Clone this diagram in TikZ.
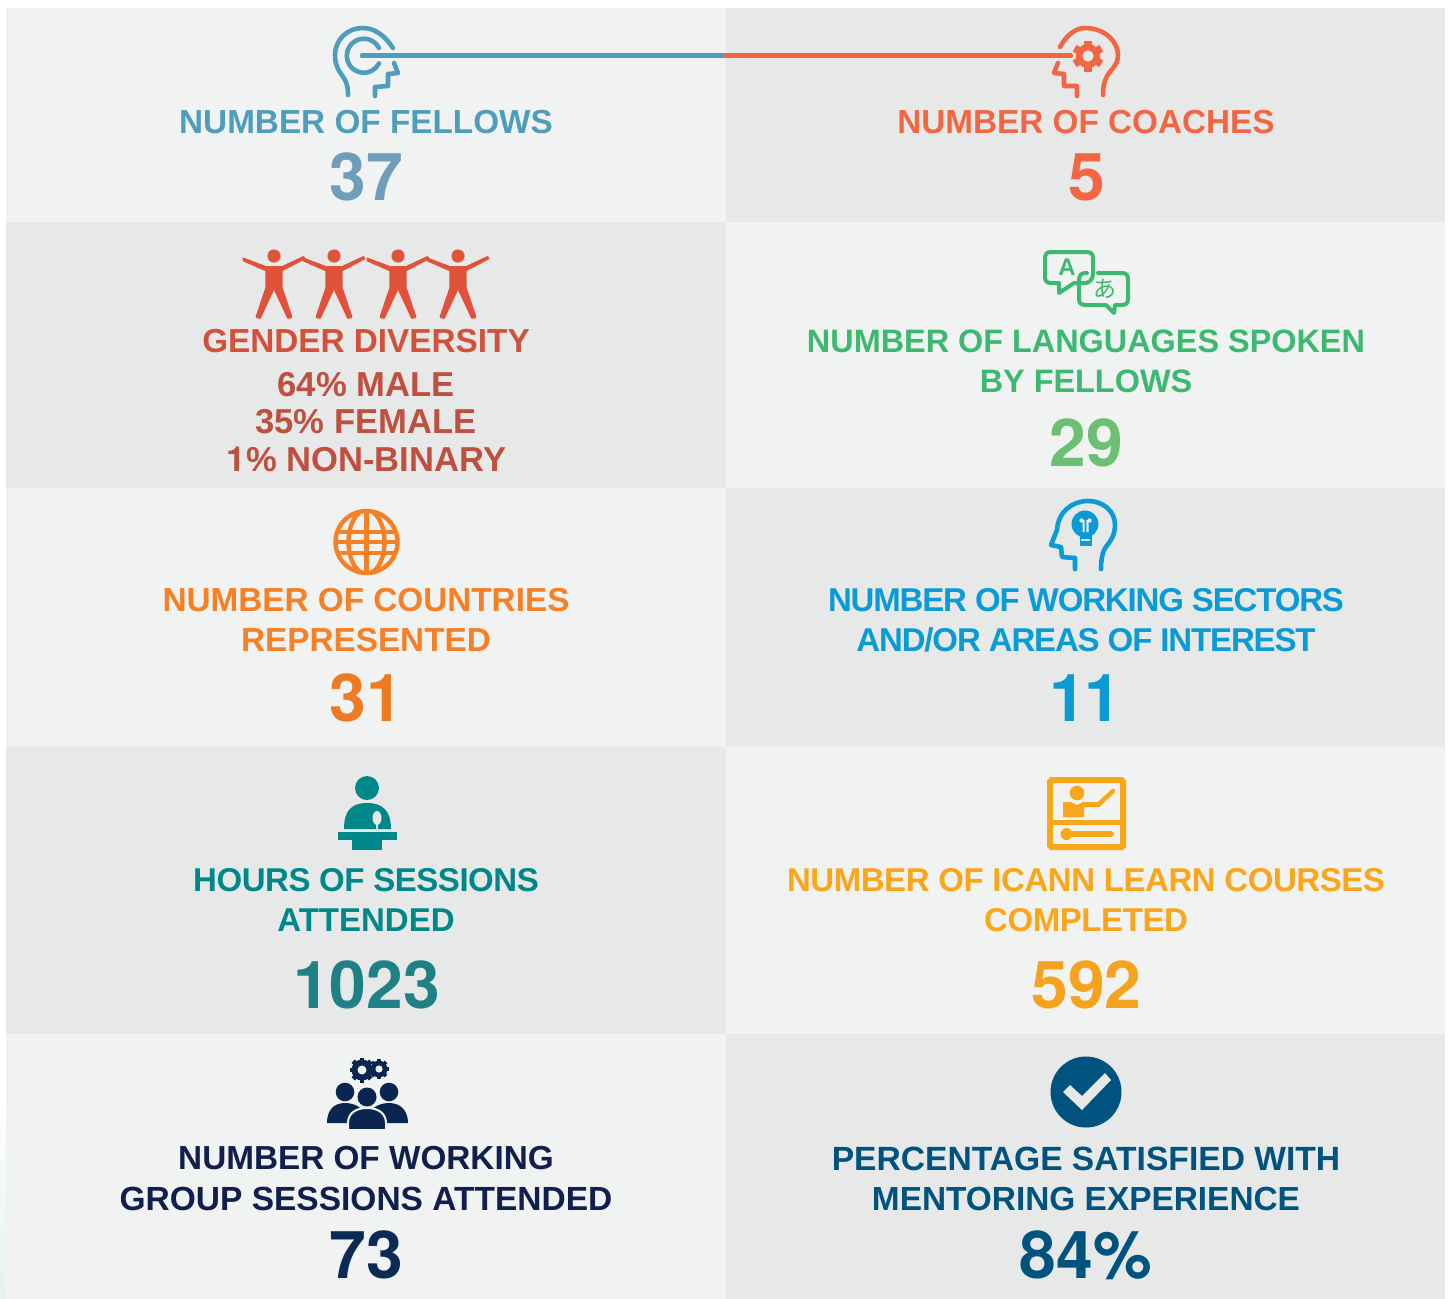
\documentclass[tikz,border=0pt]{standalone}
\usepackage{fontspec}
\setmainfont{Liberation Sans}
\newfontfamily\jpfont{Noto Sans CJK JP}
\newfontfamily\numfont{TeX Gyre Heros}
\definecolor{panL}{HTML}{F1F3F2}
\definecolor{panD}{HTML}{E7E9E8}
\definecolor{mint}{HTML}{E4F3EA}
\definecolor{cFel}{HTML}{4F9DBD}
\definecolor{cFelN}{HTML}{6F9DBB}
\definecolor{cCoa}{HTML}{F36644}
\definecolor{cGen}{HTML}{E0533A}
\definecolor{cGenT}{HTML}{D2513B}
\definecolor{cGenS}{HTML}{BF4F3F}
\definecolor{cLan}{HTML}{3DB870}
\definecolor{cLanN}{HTML}{6CBF73}
\definecolor{cCou}{HTML}{F58025}
\definecolor{cCouN}{HTML}{EE7A22}
\definecolor{cSec}{HTML}{0A9BD7}
\definecolor{cHou}{HTML}{00878A}
\definecolor{cHouN}{HTML}{1F8085}
\definecolor{cLea}{HTML}{FAA61A}
\definecolor{cLeaN}{HTML}{F5A31F}
\definecolor{cGrp}{HTML}{101F4D}
\definecolor{cGrpN}{HTML}{0B2A55}
\definecolor{cPct}{HTML}{00527F}
\definecolor{cGrpI}{HTML}{0A2650}
\newcommand\mygear[7]{%
  \fill[#5] (#1,#2) circle[radius=#7*#3];
  \foreach \a in {1,...,#4}{\fill[#5,shift={(#1,#2)},rotate=\a*360/#4] (-1.5/#4*#3,0) rectangle (1.5/#4*#3,#3);}
  \fill[#6] (#1,#2) circle[radius=0.36*#3];}
\newcommand\myperson[1]{%
  \filldraw[cGen,line width=1.8pt,line join=round,shift={(#1,0)}] (-30.5,258.5) -- (-8,267) -- (8,267) -- (29.5,257) -- (30.5,258.5) -- (7.8,270.5) -- (7.8,288) -- (17.5,317) -- (14,318) -- (0,288) -- (-14,318) -- (-17.5,317) -- (-7.8,288) -- (-7.8,270.5) -- (-30.5,260.5) -- cycle;
  \fill[cGen] (#1,256) circle[radius=6.6];}
\tikzset{
  lab/.style={anchor=base,inner sep=0pt,font=\fontsize{#1}{#1}\selectfont\bfseries},
  lab/.default=33.3,
  num/.style={anchor=base,inner sep=0pt,font=\numfont\bfseries\fontsize{66}{66}\selectfont},
  ico/.style={line width=4.6pt,line cap=round,line join=round},
  link/.style={line width=4.6pt,line cap=round},
}
\begin{document}
\begin{tikzpicture}[x=1pt,y=-1pt]
\useasboundingbox (0,0) rectangle (1449,1299);
\fill[white] (0,0) rectangle (1449,1299);
\shade[top color=white,bottom color=mint] (0,1100) rectangle (6,1299);
% panels
\fill[panL] (6,8) rectangle (726,222);
\fill[panD] (726,8) rectangle (1445,222);
\fill[panD] (6,222) rectangle (726,488);
\fill[panL] (726,222) rectangle (1445,488);
\fill[panL] (6,488) rectangle (726,747);
\fill[panD] (726,488) rectangle (1445,747);
\fill[panD] (6,747) rectangle (726,1034);
\fill[panL] (726,747) rectangle (1445,1034);
\fill[panL] (6,1034) rectangle (726,1299);
\fill[panD] (726,1034) rectangle (1445,1299);
% fellows head
\draw[ico,cFel] (393,48) .. controls (385,36) and (375,28) .. (363,28) .. controls (346,28) and (335,41) .. (335,55) .. controls (335,68) and (341,73) .. (345,80) .. controls (347,84) and (348,88) .. (348,95);
\draw[ico,cFel] (379,48) arc[start angle=-27,end angle=-333,radius=17];
\draw[ico,cFel] (394,63) -- (398,73) -- (388,74) -- (388,86) -- (375,87) -- (375,96);
% coach head
\draw[ico,cCoa] (1060,47) .. controls (1066,36) and (1075,28) .. (1085,28) .. controls (1104,28) and (1118,41) .. (1118,55) .. controls (1118,66) and (1110,70) .. (1107,76) .. controls (1104,82) and (1103,88) .. (1103,95);
\draw[ico,cCoa] (1058,63) -- (1054,73) -- (1064,74) -- (1064,86) -- (1077,86) -- (1077,96);
\mygear{1088}{56}{15.5}{6}{cCoa}{panD}{0.78}
% connector
\coordinate (fellowEye) at (362,55.5);
\coordinate (midJoin) at (726,55.5);
\coordinate (coachGear) at (1071,55.5);
\draw[link,cFel] (fellowEye) -- (midJoin);
\draw[link,cCoa] (midJoin) -- (coachGear);
% people
\myperson{274}\myperson{334}\myperson{398}\myperson{458}
% languages
\draw[ico,cLan,line width=4pt] (1085,283) -- (1074,283) -- (1059,293) -- (1059,283) -- (1051,283) .. controls (1047,283) and (1045,281) .. (1045,277) -- (1045,258) .. controls (1045,254) and (1047,252) .. (1051,252) -- (1087,252) .. controls (1091,252) and (1093,254) .. (1093,258) -- (1093,273) .. controls (1093,279) and (1090,283) .. (1085,283);
\draw[ico,cLan,line width=4pt] (1087,273) -- (1085,273) .. controls (1081,273) and (1079,276) .. (1079,280) -- (1079,299) .. controls (1079,303) and (1081,305) .. (1085,305) -- (1106,305) -- (1114,313) -- (1115,305) -- (1122,305) .. controls (1126,305) and (1128,303) .. (1128,299) -- (1128,279) .. controls (1128,275) and (1126,273) .. (1122,273) -- (1098,273);
\node[anchor=center,inner sep=0pt,text=cLan,font=\fontsize{24}{24}\selectfont\bfseries] (langA) at (1067,267) {A};
\node[anchor=center,inner sep=0pt,text=cLan,font=\fontsize{23}{23}\selectfont\jpfont] (langJ) at (1105,289) {あ};
% globe
\draw[cCou,line width=4.4pt] (366.5,542) circle[radius=31];
\begin{scope}
\clip (366.5,542) circle[radius=32];
\draw[cCou,line width=4.4pt] (366.5,542) ellipse[x radius=18,y radius=32];
\draw[cCou,line width=4.4pt] (366.5,510) -- (366.5,574);
\draw[cCou,line width=4pt] (335,532) -- (399,532) (335,542) -- (399,542) (335,553) -- (399,553);
\end{scope}
% bulb head
\draw[ico,cSec] (1075,569) -- (1075,558) -- (1062,557) -- (1061,547) -- (1051,545) -- (1057,530) .. controls (1058,512) and (1072,501) .. (1088,501) .. controls (1103,501) and (1115,511) .. (1115,525) .. controls (1115,538) and (1108,543) .. (1104,550) .. controls (1102,555) and (1101,561) .. (1101,569);
\fill[cSec] (1085,524) circle[radius=13.5];
\fill[cSec] (1079.5,530) rectangle (1091.5,545.5);
\draw[panD,line width=1.4pt] (1081,540) -- (1090,540);
\fill[panD] (1081.5,520.5) circle[radius=2.2] (1089.5,520.5) circle[radius=2.2];
\fill[panD] (1082.5,520) rectangle (1084.7,532) (1086.3,520) rectangle (1088.5,532);
% speaker
\fill[cHou] (367,788) circle[radius=12];
\fill[cHou] (344,829) .. controls (344,810) and (352,803) .. (367,803) .. controls (382,803) and (391,810) .. (391,829) -- cycle;
\fill[panD] (377,818) ellipse[x radius=4.5,y radius=7];
\fill[panD] (376,823) rectangle (378,829);
\fill[cHou] (338,832) rectangle (397,840);
\fill[cHou] (352,840) rectangle (382,850);
% board
\draw[cLea,line width=6pt,rounded corners=1.5pt] (1050,780) rectangle (1123,847);
\draw[cLea,line width=5pt] (1048,822) -- (1125,822);
\fill[cLea] (1077,793) circle[radius=7.3];
\fill[cLea] (1063,802) -- (1071,802) -- (1077,805) -- (1083,802) -- (1098,802) -- (1100,807) -- (1084,807) -- (1084,817) -- (1063,817) -- cycle;
\draw[cLea,line width=4.5pt,line cap=round] (1099,804) -- (1113,791);
\draw[cLea,line width=6pt,line cap=round] (1066,834) -- (1111,834);
\fill[cLea] (1066.5,834) circle[radius=6];
% group
\mygear{362}{1070}{12.5}{8}{cGrpI}{panL}{0.84}
\mygear{379}{1069}{10}{8}{cGrpI}{panL}{0.84}
\fill[cGrpI] (345,1092) circle[radius=9.3];
\fill[cGrpI] (389,1092) circle[radius=9.3];
\fill[cGrpI] (327,1123) .. controls (327,1111) and (333,1103) .. (345,1103) .. controls (357,1103) and (367,1110) .. (367,1123) -- cycle;
\fill[cGrpI] (367,1123) .. controls (367,1110) and (377,1103) .. (389,1103) .. controls (401,1103) and (408,1111) .. (408,1123) -- cycle;
\draw[panL,line width=2pt,fill=cGrpI] (348,1130) -- (348,1123) .. controls (348,1114) and (355,1108) .. (367,1108) .. controls (379,1108) and (386,1114) .. (386,1123) -- (386,1130) -- cycle;
\fill[panL] (367,1097) circle[radius=10.5];
\fill[cGrpI] (367,1097) circle[radius=9.5];
% check
\fill[cPct] (1086,1092) circle[radius=35.5];
\fill[panD] (1063,1092) -- (1070,1085) -- (1082,1096) -- (1105,1073) -- (1111,1080) -- (1082,1110) -- cycle;
% texts
\node[lab,text=cFel] (t1) at (366,133) {NUMBER OF FELLOWS};
\node[num,text=cFelN] (n1) at (366.5,200) {37};
\node[lab,text=cCoa] (t2) at (1086,133) {NUMBER OF COACHES};
\node[num,text=cCoa] (n2) at (1086.5,200) {5};
\node[lab,text=cGenT] (t3) at (366,352) {GENDER DIVERSITY};
\node[lab=34.6,text=cGenS] (s1) at (366,396) {64\% MALE};
\node[lab=34.6,text=cGenS] (s2) at (366,433) {35\% FEMALE};
\node[lab=34.6,text=cGenS] (s3) at (366.5,471) {{\numfont 1}\% NON-BINARY};
\node[lab=32.4,text=cLan] (t4a) at (1086,352) {NUMBER OF LANGUAGES SPOKEN};
\node[lab=32.4,text=cLan] (t4b) at (1086,392) {BY FELLOWS};
\node[num,text=cLanN] (n4) at (1086,466) {29};
\node[lab,text=cCou] (t5a) at (366,611) {NUMBER OF COUNTRIES};
\node[lab,text=cCou] (t5b) at (366,651) {REPRESENTED};
\node[num,text=cCouN] (n5) at (366,721.5) {31};
\node[lab=33,text=cSec] (t6a) at (1086,611) {\addfontfeature{LetterSpace=-3.5}NUMBER OF WORKING SECTORS};
\node[lab=33,text=cSec] (t6b) at (1086,651) {\addfontfeature{LetterSpace=-3.5}AND/OR AREAS OF INTEREST};
\node[num,text=cSec] (n6) at (1085.5,721.5) {\addfontfeature{LetterSpace=-2}11};
\node[lab=33,text=cHou] (t7a) at (366,891) {\addfontfeature{LetterSpace=-1.4}HOURS OF SESSIONS};
\node[lab=33,text=cHou] (t7b) at (366,931) {ATTENDED};
\node[num,text=cHouN] (n7) at (366.5,1008) {1023};
\node[lab=33,text=cLea] (t8a) at (1086,891) {\addfontfeature{LetterSpace=-1.35}NUMBER OF ICANN LEARN COURSES};
\node[lab=33,text=cLea] (t8b) at (1086,931) {\addfontfeature{LetterSpace=-1.3}COMPLETED};
\node[num,text=cLeaN] (n8) at (1086.5,1008) {592};
\node[lab,text=cGrp] (t9a) at (366,1169) {NUMBER OF WORKING};
\node[lab=33.5,text=cGrp] (t9b) at (366,1210) {GROUP SESSIONS ATTENDED};
\node[num,text=cGrpN] (n9) at (366,1278) {73};
\node[lab=33.6,text=cPct] (t10a) at (1086,1170) {PERCENTAGE SATISFIED WITH};
\node[lab=33.4,text=cPct] (t10b) at (1086,1210) {MENTORING EXPERIENCE};
\node[num,text=cPct] (n10) at (1086,1278) {84\%};
\end{tikzpicture}
\end{document}
